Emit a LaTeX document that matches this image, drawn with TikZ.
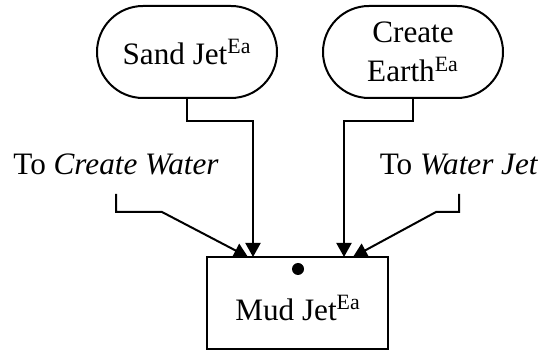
\documentclass[tikz,border=0pt]{standalone}
\usepackage{fontspec}
\setmainfont{Liberation Serif}
\usetikzlibrary{arrows.meta, shapes.misc}

\begin{document}
\begin{tikzpicture}[x=0.5pt,y=-0.5pt,
		font=\fontsize{15.6}{19.5}\selectfont,
		pill/.style={draw, line width=1pt, rounded rectangle, minimum width=90pt, minimum height=46pt, align=center, inner sep=0pt},
		block/.style={draw, line width=1pt, minimum width=90.5pt, minimum height=46pt, inner sep=0pt},
		lbl/.style={inner xsep=0pt, inner ysep=9pt, anchor=base},
		arr/.style={line width=1pt, -{Triangle[length=7pt,width=7.5pt]}}]
			\useasboundingbox (0,0) rectangle (556,351);
			\node[pill](sj) at (187,52) {Sand Jet\textsuperscript{Ea}};
			\node[pill](ce) at (413,52) {Create\\Earth\textsuperscript{Ea}};
			\node[block](mud) at (297.5,303) {};
			\node(mudtxt) at (298,308) {Mud Jet\textsuperscript{Ea}};
			\fill (298,269) circle (6);
			\node[lbl](cw) at (116,175) {To \textit{Create Water}};
			\node[lbl](wj) at (459,175) {To \textit{Water Jet}};
			\coordinate (in1) at (253,257);
			\coordinate (in2) at (344,257);
			\coordinate (in3) at (248,257);
			\coordinate (in4) at (353,257);
			% connectors into the box
			\draw[arr](sj.south) -- ++(0,22) -| (in1);
			\draw[arr](ce.south) -- ++(0,22) -| (in2);
			\draw[arr](cw.south) |- (162,212) -- (in3);
			\draw[arr](wj.south) |- (436,212) -- (in4);
\end{tikzpicture}
\end{document}
